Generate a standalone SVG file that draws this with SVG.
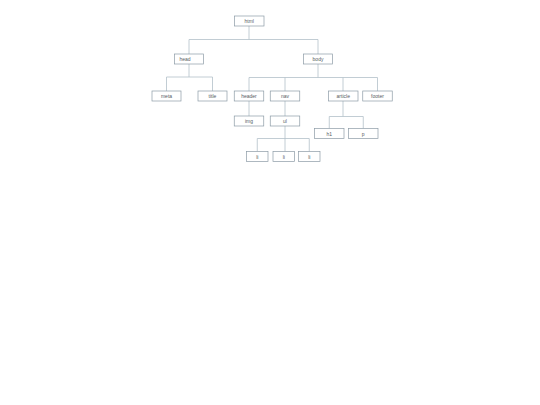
<svg xmlns="http://www.w3.org/2000/svg" width="540" height="405" viewBox="0 0 540 405">
<style>
.n rect{fill:#ffffff;stroke:#8c9ba6;stroke-width:0.7}
.n text{font-family:"Liberation Sans",Arial,sans-serif;font-size:5px;fill:#555c62;text-anchor:middle;dominant-baseline:central}
#connectors path{fill:none;stroke:#b3c0c9;stroke-width:0.8}
</style>
<rect width="540" height="405" fill="#ffffff"/>
<g id="connectors">
<path d="M249 26V39.5M189 54V39.5H318V54"/>
<path d="M189 64V77H166.5V91M189 77H212.5V91"/>
<path d="M318 64V77.5H249V91M285 77.5V91M343 77.5V91M318 77.5H377.5V91"/>
<path d="M249 101V116"/>
<path d="M285 101V116"/>
<path d="M285 126V151.5M257.25 151.5V138.5H309.25V151.5"/>
<path d="M343 101V116.5H329.25V128.5M343 116.5H363.25V128.5"/>
</g>
<g id="n-html" class="n"><rect x="234.5" y="16" width="29.5" height="10"/><text x="249.25" y="21">html</text></g>
<g id="n-head" class="n"><rect x="174.5" y="54" width="29" height="10"/><text x="185" y="59">head</text></g>
<g id="n-body" class="n"><rect x="303.5" y="54" width="29" height="10"/><text x="318" y="59">body</text></g>
<g id="n-meta" class="n"><rect x="152" y="91" width="29" height="10"/><text x="166.5" y="96">meta</text></g>
<g id="n-title" class="n"><rect x="198" y="91" width="29" height="10"/><text x="212.5" y="96">title</text></g>
<g id="n-header" class="n"><rect x="234.25" y="91" width="29.5" height="10"/><text x="249" y="96">header</text></g>
<g id="n-nav" class="n"><rect x="270.25" y="91" width="29.5" height="10"/><text x="285" y="96">nav</text></g>
<g id="n-article" class="n"><rect x="328.5" y="91" width="29.5" height="10"/><text x="343.25" y="96">article</text></g>
<g id="n-footer" class="n"><rect x="362.75" y="91" width="29.5" height="10"/><text x="377.5" y="96">footer</text></g>
<g id="n-img" class="n"><rect x="234.25" y="116" width="29.5" height="10"/><text x="249" y="121">img</text></g>
<g id="n-ul" class="n"><rect x="270.25" y="116" width="29.5" height="10"/><text x="285" y="121">ul</text></g>
<g id="n-h1" class="n"><rect x="314.5" y="128.5" width="29.5" height="10"/><text x="329.25" y="133.5">h1</text></g>
<g id="n-p" class="n"><rect x="348.5" y="128.5" width="29.5" height="10"/><text x="363.25" y="133.5">p</text></g>
<g id="n-li1" class="n"><rect x="246.5" y="151.5" width="21.5" height="10"/><text x="257.25" y="156.5">li</text></g>
<g id="n-li2" class="n"><rect x="273" y="151.5" width="21.5" height="10"/><text x="283.75" y="156.5">li</text></g>
<g id="n-li3" class="n"><rect x="298.5" y="151.5" width="21.5" height="10"/><text x="309.25" y="156.5">li</text></g>
</svg>
